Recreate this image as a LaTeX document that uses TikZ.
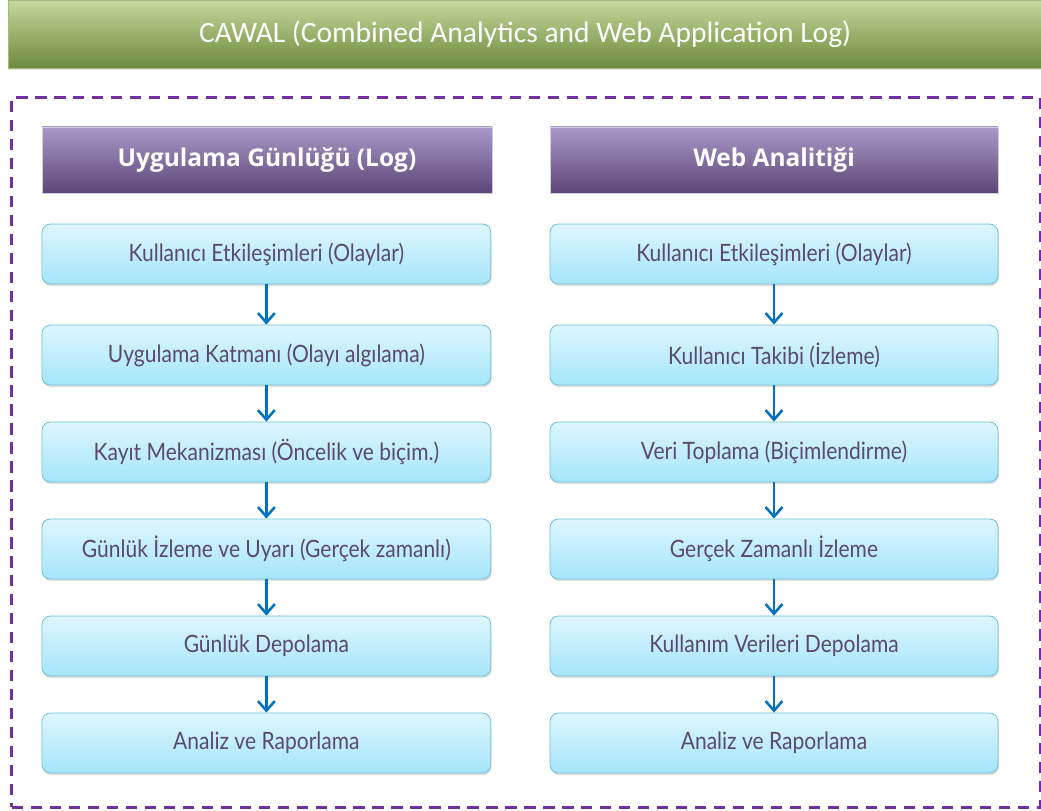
\documentclass[tikz,border=0pt]{standalone}
\usepackage{fontspec}
\usepackage{xcolor}
\usetikzlibrary{arrows.meta,shadows}
\setmainfont{Lato}
\newfontfamily\boxfont[FakeStretch=0.88]{Lato}
\newfontfamily\headfont{Open Sans}
\newfontfamily\titlefont{Carlito}
\definecolor{grassTop}{HTML}{C5D89E}
\definecolor{grassMid}{HTML}{9BBB59}
\definecolor{grassLow}{HTML}{6C8A3A}
\definecolor{plumTop}{HTML}{AA9AC9}
\definecolor{plumMid}{HTML}{8064A2}
\definecolor{plumLow}{HTML}{5B4676}
\definecolor{frameLine}{HTML}{7030A0}
\definecolor{skyTop}{HTML}{DEF6FD}
\definecolor{skyLow}{HTML}{A5E5FA}
\definecolor{skyEdge}{HTML}{6FC2D9}
\definecolor{ink}{HTML}{5A4A70}
\definecolor{arrowBlue}{HTML}{0070C0}

\begin{document}
\begin{tikzpicture}[
    titlebar/.style={
        top color=grassTop,
        middle color=grassMid,
        bottom color=grassLow,
        draw=grassLow!60,
        line width=0.3pt,
        minimum width=25.85cm,
        minimum height=1.7cm,
        text=white,
        font=\titlefont\fontsize{21}{24}\selectfont,
        drop shadow={opacity=0.2, shadow xshift=0pt, shadow yshift=-1.2pt}
    },
    frame/.style={
        draw=frameLine,
        line width=2.1pt,
        dash pattern=on 8pt off 5.5pt
    },
    header/.style={
        top color=plumTop,
        middle color=plumMid,
        bottom color=plumLow,
        draw=plumTop!50,
        line width=0.3pt,
        minimum height=1.65cm,
        text=white,
        font=\headfont\bfseries\fontsize{17.4}{20}\selectfont
    },
    stepbox/.style={
        top color=skyTop,
        bottom color=skyLow,
        draw=skyEdge,
        line width=0.6pt,
        rounded corners=6pt,
        minimum height=1.5cm,
        text=ink,
        font=\boxfont\fontsize{17}{20}\selectfont,
        drop shadow={opacity=0.25, shadow xshift=0.6pt, shadow yshift=-1.6pt}
    },
    flow/.style={-{Straight Barb[length=2.4mm, width=4.2mm]}, draw=arrowBlue, line width=1.8pt}
]
\useasboundingbox (0,0) rectangle (26.025,-20.275);

% Title bar and dashed frame.
\node[titlebar] (title) at (13.13,-0.85) {CAWAL (Combined Analytics and Web Application Log)};
\node[frame, minimum width=25.72cm, minimum height=17.75cm, anchor=north west] (frame) at (0.26,-2.4) {};

% Column headers.
\node[header, minimum width=11.25cm] (logHead) at (6.675,-4.0) {Uygulama Günlüğü (Log)};
\node[header, minimum width=11.2cm] (webHead) at (19.35,-4.0) {Web Analitiği};

% Left column: application log steps.
\node[stepbox, minimum width=11.22cm] (logEvents) at (6.66,-6.35) {Kullanıcı Etkileşimleri (Olaylar)};
\node[stepbox, minimum width=11.22cm] (logLayer) at (6.66,-8.875) {Uygulama Katmanı (Olayı algılama)};
\node[stepbox, minimum width=11.22cm] (logRecord) at (6.66,-11.3) {Kayıt Mekanizması (Öncelik ve biçim.)};
\node[stepbox, minimum width=11.22cm] (logWatch) at (6.66,-13.725) {Günlük İzleme ve Uyarı (Gerçek zamanlı)};
\node[stepbox, minimum width=11.22cm] (logStore) at (6.66,-16.15) {Günlük Depolama};
\node[stepbox, minimum width=11.22cm] (logReport) at (6.66,-18.575) {Analiz ve Raporlama};

% Right column: web analytics steps.
\node[stepbox, minimum width=11.2cm] (webEvents) at (19.35,-6.35) {Kullanıcı Etkileşimleri (Olaylar)};
\node[stepbox, minimum width=11.2cm] (webTrack) at (19.35,-8.875) {Kullanıcı Takibi (İzleme)};
\node[stepbox, minimum width=11.2cm] (webCollect) at (19.35,-11.3) {Veri Toplama (Biçimlendirme)};
\node[stepbox, minimum width=11.2cm] (webWatch) at (19.35,-13.725) {Gerçek Zamanlı İzleme};
\node[stepbox, minimum width=11.2cm] (webStore) at (19.35,-16.15) {Kullanım Verileri Depolama};
\node[stepbox, minimum width=11.2cm] (webReport) at (19.35,-18.575) {Analiz ve Raporlama};

\draw[flow] (logEvents) -- (logLayer);
\draw[flow] (logLayer) -- (logRecord);
\draw[flow] (logRecord) -- (logWatch);
\draw[flow] (logWatch) -- (logStore);
\draw[flow] (logStore) -- (logReport);

\draw[flow] (webEvents) -- (webTrack);
\draw[flow] (webTrack) -- (webCollect);
\draw[flow] (webCollect) -- (webWatch);
\draw[flow] (webWatch) -- (webStore);
\draw[flow] (webStore) -- (webReport);

\end{tikzpicture}
\end{document}
